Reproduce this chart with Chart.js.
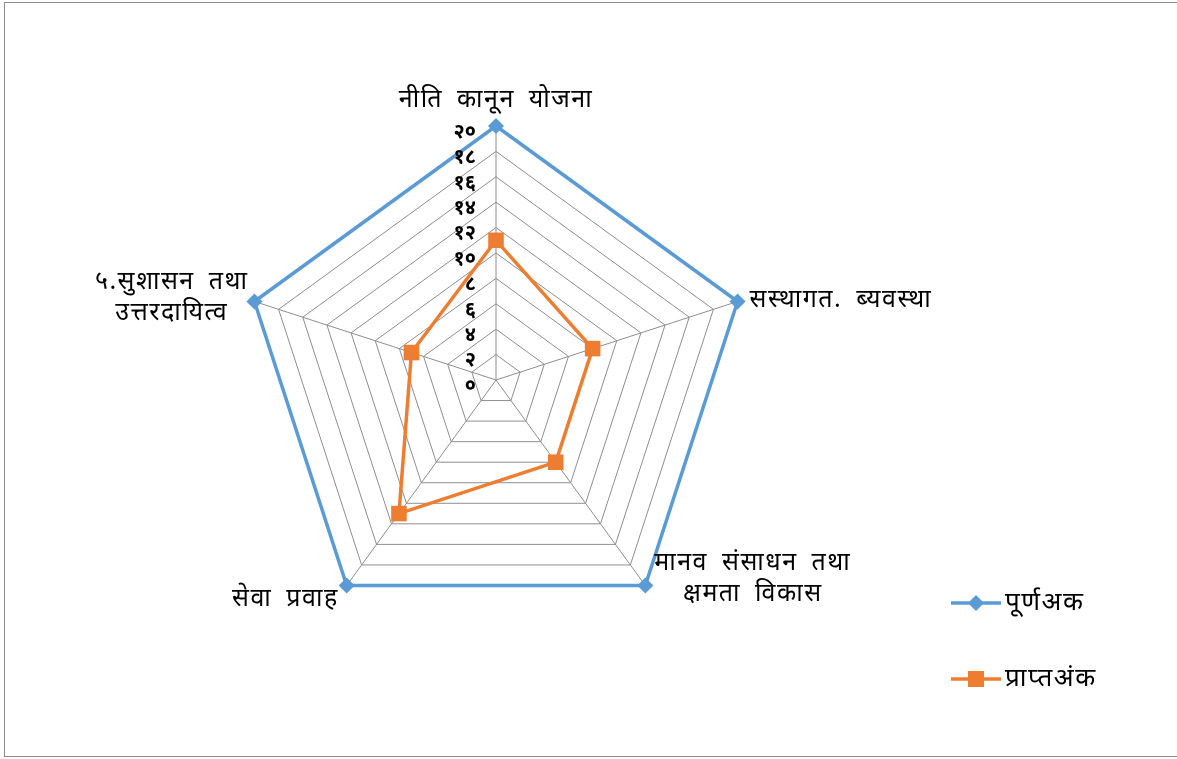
<!DOCTYPE html>
<html>
<head>
<meta charset="utf-8">
<script src="https://cdn.jsdelivr.net/npm/chart.js@4.4.1/dist/chart.umd.min.js"></script>
<style>
    html, body { margin: 0; padding: 0; background: white; overflow: hidden; }
    .frame {
        position: absolute; left: 4px; top: 2px; width: 1180px; height: 755px;
        border: 1px solid #8c8c8c; box-sizing: border-box;
    }
    canvas { position: absolute; left: 0; top: 0; }
</style>
</head>
<body>
<div class="frame"></div>
<canvas id="radar" width="1177" height="759"></canvas>
<script>
const categories = [
    ['नीति कानून योजना'],
    ['सस्थागत. ब्यवस्था'],
    ['मानव संसाधन तथा', 'क्षमता विकास'],
    ['सेवा प्रवाह'],
    ['५.सुशासन तथा', 'उत्तरदायित्व'],
];
const fullMarks = [20, 20, 20, 20, 20];
const obtainedMarks = [11, 8, 8, 13, 7];
const seriesNames = ['पूर्णअक', 'प्राप्तअंक'];
const tickValues = [0, 2, 4, 6, 8, 10, 12, 14, 16, 18, 20];

const BLUE = '#5B9BD5';
const ORANGE = '#ED7D31';
const GRID = '#8e8e8e';
const FONT = "'Noto Sans', 'Noto Sans Devanagari', 'Lohit Devanagari', 'Mangal', sans-serif";

const DEVA_DIGITS = '०१२३४५६७८९';
const toDeva = (n) => String(n).replace(/[0-9]/g, (d) => DEVA_DIGITS[d]);

// wide Devanagari text, closer to the Mangal look of the original
function setWideText(ctx, size, weight = '') {
    ctx.font = `${weight} ${size}px ${FONT}`;
    ctx.letterSpacing = '1.5px';
    ctx.wordSpacing = '6px';
}

// tick labels sit left of the vertical axis, as in the original
const tickLabelPlugin = {
    id: 'tickLabels',
    afterDatasetsDraw(chart) {
        const scale = chart.scales.r;
        const ctx = chart.ctx;
        ctx.save();
        ctx.font = `bold 20px ${FONT}`;
        ctx.fillStyle = '#000';
        ctx.textAlign = 'right';
        ctx.textBaseline = 'middle';
        tickValues.forEach((v) => {
            const y = scale.yCenter - scale.getDistanceFromCenterForValue(v);
            ctx.fillText(toDeva(v), scale.xCenter - 20, y + 6);
        });
        ctx.restore();
    },
};

// axis names, lines centred within each label block
const LABEL_PLACE = [
    { dx: 0, dy: -26, align: 'center' },
    { dx: 12, dy: -2, align: 'left' },
    { dx: 9, dy: -7, align: 'left' },
    { dx: -8, dy: 13, align: 'right' },
    { dx: -6, dy: -4, align: 'right' },
];
const pointLabelPlugin = {
    id: 'axisNames',
    afterDraw(chart) {
        const scale = chart.scales.r;
        const ctx = chart.ctx;
        const lineH = 31;
        ctx.save();
        setWideText(ctx, 25);
        ctx.fillStyle = '#000';
        ctx.textBaseline = 'middle';
        ctx.textAlign = 'center';
        categories.forEach((lines, i) => {
            const p = scale.getPointPosition(i, scale.drawingArea);
            const pl = LABEL_PLACE[i];
            const blockW = Math.max(...lines.map((t) => ctx.measureText(t).width));
            let cx = p.x + pl.dx;
            if (pl.align === 'left') cx += blockW / 2;
            if (pl.align === 'right') cx -= blockW / 2;
            const top = p.y + pl.dy - ((lines.length - 1) * lineH) / 2;
            lines.forEach((t, k) => ctx.fillText(t, cx, top + k * lineH));
        });
        ctx.restore();
    },
};

// legend entries: a short line with the series marker in the middle
const legendPlugin = {
    id: 'lineLegend',
    afterDraw(chart) {
        const ctx = chart.ctx;
        const items = [
            { text: seriesNames[0], color: BLUE, style: 'diamond' },
            { text: seriesNames[1], color: ORANGE, style: 'square' },
        ];
        ctx.save();
        setWideText(ctx, 26);
        ctx.textBaseline = 'middle';
        items.forEach((it, i) => {
            const x = 951, y = 603 + i * 76;
            ctx.strokeStyle = it.color;
            ctx.lineWidth = 3.5;
            ctx.beginPath();
            ctx.moveTo(x, y);
            ctx.lineTo(x + 50, y);
            ctx.stroke();
            ctx.fillStyle = it.color;
            if (it.style === 'diamond') {
                ctx.beginPath();
                ctx.moveTo(x + 25, y - 8);
                ctx.lineTo(x + 33, y);
                ctx.lineTo(x + 25, y + 8);
                ctx.lineTo(x + 17, y);
                ctx.closePath();
                ctx.fill();
            } else {
                ctx.fillRect(x + 17, y - 8, 16, 16);
            }
            ctx.fillStyle = '#000';
            ctx.fillText(it.text, x + 54, y);
        });
        ctx.restore();
    },
};

new Chart(document.getElementById('radar'), {
    type: 'radar',
    plugins: [tickLabelPlugin, pointLabelPlugin, legendPlugin],
    data: {
        labels: categories,
        datasets: [
            {
                label: seriesNames[0],
                data: fullMarks,
                borderColor: BLUE,
                backgroundColor: BLUE,
                borderWidth: 3.5,
                fill: false,
                clip: false,
                pointStyle: 'rectRot',
                pointRadius: 8,
                pointBorderWidth: 0,
                pointBackgroundColor: BLUE,
            },
            {
                label: seriesNames[1],
                data: obtainedMarks,
                borderColor: ORANGE,
                backgroundColor: ORANGE,
                borderWidth: 3.5,
                fill: false,
                clip: false,
                pointStyle: 'rect',
                pointRadius: 11,
                pointBorderWidth: 0,
                pointBackgroundColor: ORANGE,
            },
        ],
    },
    options: {
        responsive: false,
        animation: false,
        layout: { padding: { left: 242, right: 427, top: 126, bottom: 125 } },
        plugins: {
            legend: { display: false },
            tooltip: { enabled: false },
        },
        scales: {
            r: {
                min: 0,
                max: 20,
                ticks: { stepSize: 2, display: false },
                grid: { color: GRID, lineWidth: 1 },
                angleLines: { color: GRID, lineWidth: 1 },
                pointLabels: { display: false },
            },
        },
    },
});
</script>
</body>
</html>
